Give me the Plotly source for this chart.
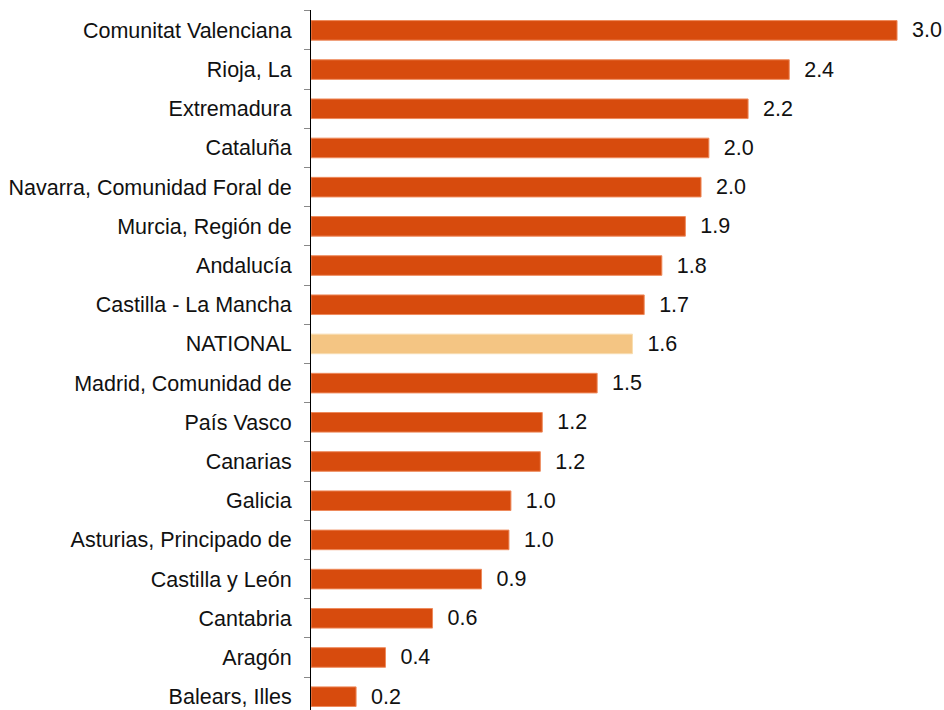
import plotly.graph_objects as go

regions = [
    "Comunitat Valenciana", "Rioja, La", "Extremadura", "Cataluña",
    "Navarra, Comunidad Foral de", "Murcia, Región de", "Andalucía",
    "Castilla - La Mancha", "NATIONAL", "Madrid, Comunidad de",
    "País Vasco", "Canarias", "Galicia", "Asturias, Principado de",
    "Castilla y León", "Cantabria", "Aragón", "Balears, Illes",
]
values = [2.99, 2.44, 2.23, 2.03, 1.99, 1.91, 1.79, 1.70, 1.64, 1.46,
          1.18, 1.17, 1.02, 1.01, 0.87, 0.62, 0.38, 0.23]

main_color = "#D74B0D"
national_color = "#F4C583"
colors = [national_color if r == "NATIONAL" else main_color for r in regions]
line_colors = ["#F8DDB0" if r == "NATIONAL" else "#EE8A5C" for r in regions]

FONT = "Liberation Sans, Arial, sans-serif"

fig = go.Figure(go.Bar(
    x=values,
    y=regions,
    orientation="h",
    width=0.5,
    marker=dict(color=colors, line=dict(color=line_colors, width=1)),
    texttemplate="\u00a0\u00a0%{x:.1f}",
    textposition="outside",
    constraintext="none",
    cliponaxis=False,
    textfont=dict(family=FONT, size=21.5, color="#111111"),
    hoverinfo="skip",
))

fig.update_layout(
    width=944,
    height=710,
    margin=dict(l=311, r=0, t=10, b=0, autoexpand=False),
    paper_bgcolor="white",
    plot_bgcolor="white",
    showlegend=False,
    font=dict(family=FONT, size=21.5, color="#111111"),
    bargap=0.5,
)

fig.update_xaxes(
    range=[0, 3.2296],
    visible=False,
    showgrid=False,
    zeroline=False,
    automargin=False,
)

fig.update_yaxes(
    type="category",
    range=[17.34, -0.52],
    automargin=False,
    showline=True,
    linecolor="#000000",
    linewidth=1,
    ticks="outside",
    tickson="boundaries",
    ticklen=6,
    tickcolor="#888888",
    tickwidth=1,
    showgrid=False,
    zeroline=False,
    ticklabelstandoff=14,
    tickfont=dict(family=FONT, size=21.5, color="#111111"),
)

fig.write_html(
    "out.html",
    config={"displayModeBar": False},
    post_script="document.body.style.margin='0';document.body.style.overflow='hidden';",
)
